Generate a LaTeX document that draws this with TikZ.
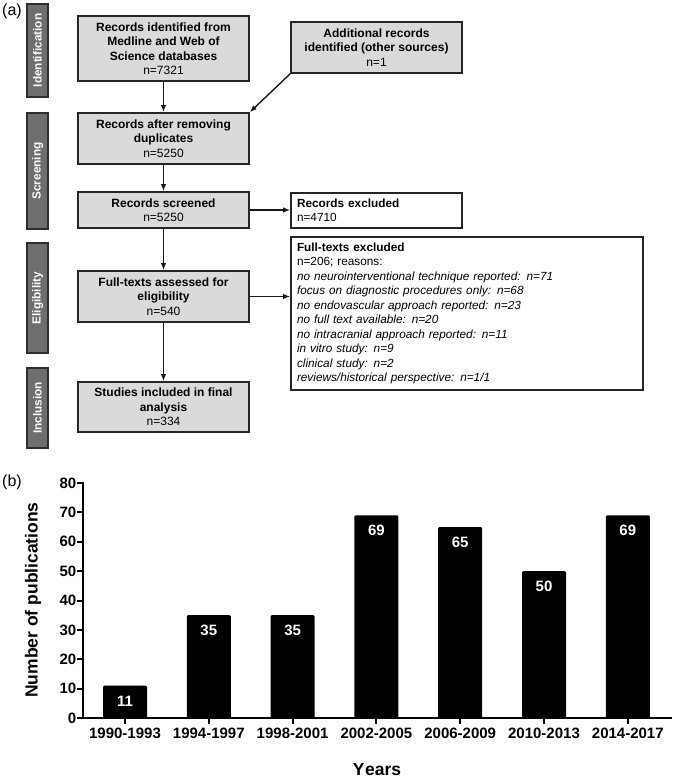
\documentclass[tikz,border=0pt]{standalone}
\usepackage{fontspec}
\setmainfont{Liberation Sans}
\usetikzlibrary{arrows.meta}
\definecolor{boxgray}{HTML}{DADADA}
\definecolor{sidegray}{HTML}{6E6E6E}
\definecolor{sideedge}{HTML}{2E2E2E}
\newcommand{\reason}[1]{\textit{#1}}
\begin{document}
\begin{tikzpicture}[x=1pt,y=-1pt,
  flow/.style={draw=black!85, line width=1.6pt, fill=boxgray, align=center, inner sep=0pt,
    minimum width=171pt, font=\fontsize{12}{14.5}\selectfont},
  note/.style={draw=black!85, line width=1.6pt, fill=white, align=left, inner xsep=6pt, inner ysep=0pt,
    font=\fontsize{11.8}{14.5}\selectfont},
  side/.style={draw=sideedge, line width=1.8pt, fill=sidegray, rotate=90, text=white,
    font=\bfseries\fontsize{11.8}{13}\selectfont, inner sep=0pt, minimum height=21pt},
  arr/.style={line width=1.4pt, draw=black!90, -{Latex[length=7pt,width=5.5pt]}},
  axis/.style={line width=2.4pt, line cap=rect},
  tick/.style={line width=2pt},
  ticklab/.style={font=\bfseries\fontsize{15}{17}\selectfont},
  barlab/.style={font=\bfseries\fontsize{15}{17}\selectfont, text=white},
  axtitle/.style={font=\bfseries\fontsize{17.5}{20}\selectfont},
  panel/.style={font=\fontsize{16}{18}\selectfont}]
\useasboundingbox (0,0) rectangle (675,779);

% panel labels
\node[panel] (pa) at (12,11) {(a)};
\node[panel] (pb) at (12,482) {(b)};

% side bars
\node[side, minimum width=93pt]  (sIdent) at (37.5,50.5) {Identification};
\node[side, minimum width=116pt] (sScr)   at (37.5,171)  {Screening};
\node[side, minimum width=110pt] (sElig)  at (37.5,298)  {Eligibility};
\node[side, minimum width=80pt]  (sIncl)  at (37.5,408)  {Inclusion};

% flow boxes
\node[flow, minimum height=65pt] (b1) at (163.5,48.5) {\textbf{Records identified from}\\\textbf{Medline and Web of}\\\textbf{Science databases}\\n=7321};
\node[flow, minimum height=51pt] (b2) at (376.5,47.5) {\textbf{Additional records}\\\textbf{identified (other sources)}\\n=1};
\node[flow, minimum height=51pt] (b3) at (163.5,138.5) {\textbf{Records after removing}\\\textbf{duplicates}\\n=5250};
\node[flow, minimum height=36pt] (b4) at (163.5,210) {\textbf{Records screened}\\n=5250};
\node[flow, minimum height=51pt] (b5) at (163.5,296.5) {\textbf{Full-texts assessed for}\\\textbf{eligibility}\\n=540};
\node[flow, minimum height=50pt] (b6) at (163.5,407) {\textbf{Studies included in final}\\\textbf{analysis}\\n=334};

\node[note, text width=159pt, minimum height=35pt] (e1) at (376.5,210.5) {\textbf{Records excluded}\\n=4710};
\node[note, text width=340pt, minimum height=153pt] (e2) at (467,313.5) {\textbf{Full-texts excluded}\\
n=206; reasons:\\
\reason{no neurointerventional technique reported: n=71}\\
\reason{focus on diagnostic procedures only: n=68}\\
\reason{no endovascular approach reported: n=23}\\
\reason{no full text available: n=20}\\
\reason{no intracranial approach reported: n=11}\\
\reason{in vitro study: n=9}\\
\reason{clinical study: n=2}\\
\reason{reviews/historical perspective: n=1/1}};

% connectors
\draw[arr] (b1) -- (b3);
\draw[arr] (b2.south west) -- (b3.north east);
\draw[arr] (b3) -- (b4);
\draw[arr] (b4) -- (b4 -| e1.west);
\draw[arr] (b4) -- (b5);
\draw[arr] (b5) -- (b5 -| e2.west);
\draw[arr] (b5) -- (b6);

% bar chart
\foreach \i/\v/\lab in {0/11/1990-1993,1/35/1994-1997,2/35/1998-2001,3/69/2002-2005,4/65/2006-2009,5/50/2010-2013,6/69/2014-2017}{
  \pgfmathsetmacro{\xc}{125+83.8*\i}
  \pgfmathsetmacro{\yt}{718-2.9375*\v}
  \fill[black, rounded corners=1.2pt] ({\xc-22},718) rectangle ({\xc+22},\yt);
  \node[barlab] (bv\i) at (\xc,{\yt+15.5}) {\v};
  \draw[tick] (\xc,718) -- (\xc,724);
  \node[ticklab] (bx\i) at (\xc,733.5) {\lab};
}
\foreach \v in {0,10,...,80}{
  \pgfmathsetmacro{\yy}{718-2.9375*\v}
  \draw[tick] (77,\yy) -- (83,\yy);
  \node[ticklab, anchor=east, inner xsep=0pt] (by\v) at (76.5,\yy) {\v};
}
\draw[axis] (83,483) -- (83,718) -- (671,718);

\node[axtitle, rotate=90] (ylab) at (33,600) {Number of publications};
\node[axtitle] (xlab) at (377,770) {Y\kern0.5pt ears};
\end{tikzpicture}
\end{document}
